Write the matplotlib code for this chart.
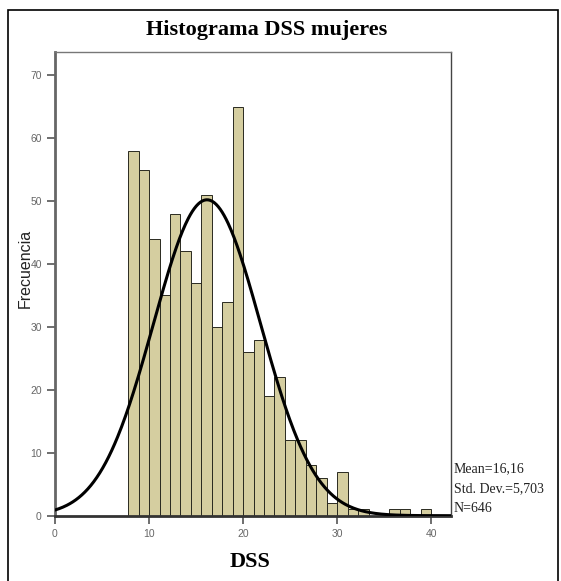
import numpy as np
import matplotlib
matplotlib.use('Agg')
import matplotlib.pyplot as plt
from matplotlib.patches import Rectangle

# datos del histograma (frecuencias por intervalo)
counts = [58, 55, 44, 35, 48, 42, 37, 51, 30, 34, 65, 26, 28, 19, 22,
          12, 12, 8, 6, 2, 7, 1, 1, 0, 0, 1, 1, 0, 1]
bin_start = 70 / 9
bin_width = 10 / 9
mean = 16.16
std = 5.703
n = 646

x_ticks = [0, 10, 20, 30, 40]
y_ticks = [0, 10, 20, 30, 40, 50, 60, 70]

fig = plt.figure(figsize=(5.61, 5.81), dpi=100)

# marco exterior
fig.patches.append(Rectangle((8 / 561, -0.1), (550) / 561, 1.1 - 10 / 581,
                             transform=fig.transFigure, fill=False,
                             edgecolor='black', linewidth=1.2))

ax = fig.add_axes([55 / 561, 1 - 515.7 / 581, 396 / 561, 463.7 / 581])

lefts = bin_start + bin_width * np.arange(len(counts))
ax.bar(lefts, counts, width=bin_width, align='edge', color='#d5cea0',
       edgecolor='#2a2a20', linewidth=0.7, zorder=2)

# curva normal
xs = np.linspace(0, 42.2, 400)
ys = n * bin_width / (std * np.sqrt(2 * np.pi)) * np.exp(-(xs - mean) ** 2 / (2 * std ** 2))
ax.plot(xs, ys, color='black', linewidth=2.2, zorder=3)

ax.set_xlim(0, 42.1)
ax.set_ylim(0, 73.7)
ax.set_xticks(x_ticks)
ax.set_yticks(y_ticks)
ax.tick_params(axis='both', direction='out', length=6, width=1.2,
               colors='#555555', labelsize=7.5, labelcolor='#666666')
for lab in ax.get_xticklabels() + ax.get_yticklabels():
    lab.set_family('Liberation Sans')

ax.spines['left'].set_color('#666666')
ax.spines['left'].set_linewidth(2)
ax.spines['bottom'].set_color('#333333')
ax.spines['bottom'].set_linewidth(2)
ax.spines['top'].set_color('#777777')
ax.spines['right'].set_color('#444444')
ax.spines['top'].set_linewidth(1)
ax.spines['right'].set_linewidth(1)

fig.text(267 / 561, 1 - 30 / 581, 'Histograma DSS mujeres', ha='center', va='center',
         family='Liberation Serif', fontweight='bold', fontsize=16)
fig.text(250 / 561, 1 - 562 / 581, 'DSS', ha='center', va='center',
         family='Liberation Serif', fontweight='bold', fontsize=16)
fig.text(25 / 561, 1 - 268 / 581, 'Frecuencia', ha='center', va='center',
         rotation=90, family='Liberation Sans', fontsize=11.5, color='#222222')

stats = ['Mean=16,16', 'Std. Dev.=5,703', 'N=646']
for i, s in enumerate(stats):
    fig.text(454 / 561, 1 - (469 + 19.5 * i) / 581, s, ha='left', va='center',
             family='Liberation Serif', fontsize=10, color='#222222')

fig.savefig('out.png', dpi=100)
